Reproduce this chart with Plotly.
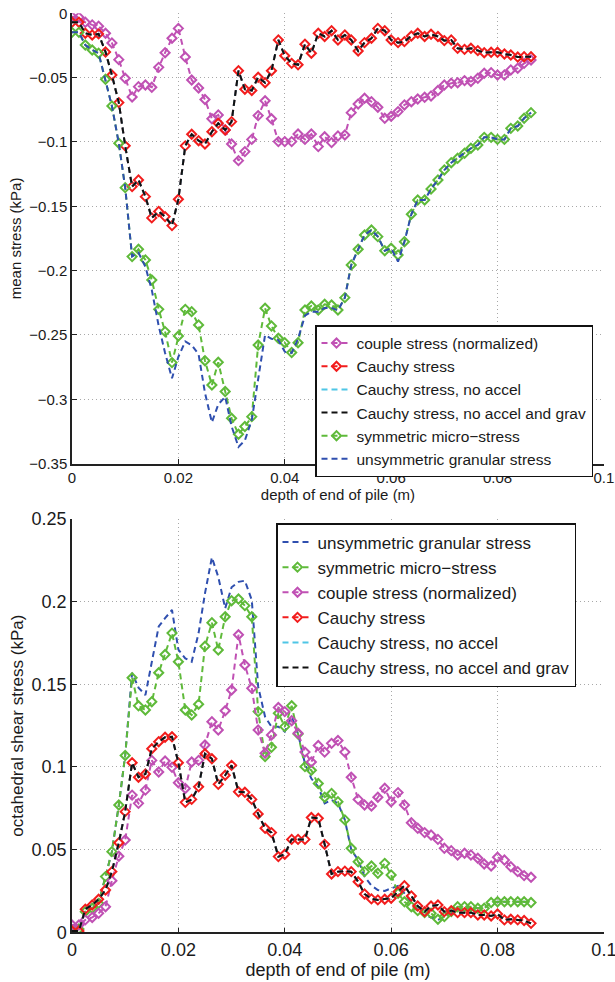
import plotly.graph_objects as go

# depth of end of pile (m) at each sample
depth = [0.0000, 0.0013, 0.0025, 0.0038, 0.0050, 0.0063, 0.0075, 0.0088, 0.0100, 0.0113,
         0.0125, 0.0138, 0.0150, 0.0163, 0.0175, 0.0188, 0.0200, 0.0213, 0.0225, 0.0238,
         0.0250, 0.0263, 0.0275, 0.0288, 0.0300, 0.0313, 0.0325, 0.0338, 0.0350, 0.0363,
         0.0375, 0.0388, 0.0400, 0.0413, 0.0425, 0.0438, 0.0450, 0.0463, 0.0475, 0.0488,
         0.0500, 0.0513, 0.0525, 0.0538, 0.0550, 0.0563, 0.0575, 0.0588, 0.0600, 0.0613,
         0.0625, 0.0638, 0.0650, 0.0663, 0.0675, 0.0688, 0.0700, 0.0713, 0.0725, 0.0738,
         0.0750, 0.0763, 0.0775, 0.0788, 0.0800, 0.0813, 0.0825, 0.0838, 0.0850, 0.0863]

# ---- mean stress (kPa) ----
mean_couple = [-0.0026, -0.003, -0.007, -0.009, -0.010, -0.0155, -0.023, -0.036, -0.0505, -0.065,
               -0.057, -0.0557, -0.0575, -0.042, -0.0306, -0.0194, -0.0117, -0.034, -0.0518, -0.058,
               -0.067, -0.082, -0.079, -0.0907, -0.1016, -0.1145, -0.1075, -0.098, -0.0795, -0.068,
               -0.082, -0.0997, -0.0997, -0.0997, -0.0938, -0.098, -0.0938, -0.1036, -0.096, -0.1005,
               -0.0953, -0.0946, -0.0772, -0.0705, -0.066, -0.0687, -0.073, -0.0816, -0.080, -0.0764,
               -0.0712, -0.0687, -0.0666, -0.0653, -0.0642, -0.060, -0.0557, -0.0544, -0.0539, -0.0523,
               -0.053, -0.0505, -0.0466, -0.0461, -0.048, -0.048, -0.044, -0.0427, -0.0389, -0.0363]

mean_cauchy = [-0.007, -0.007, -0.0155, -0.0168, -0.016, -0.030, -0.048, -0.0694, -0.103, -0.1347,
               -0.1295, -0.1425, -0.159, -0.154, -0.158, -0.165, -0.1445, -0.103, -0.094, -0.099,
               -0.1016, -0.092, -0.0855, -0.0907, -0.0842, -0.0446, -0.059, -0.060, -0.0497, -0.0539,
               -0.0446, -0.0207, -0.033, -0.0389, -0.040, -0.024, -0.031, -0.0155, -0.018, -0.0135,
               -0.0207, -0.0168, -0.0207, -0.0293, -0.0228, -0.0194, -0.0117, -0.0135, -0.0207, -0.0228,
               -0.022, -0.0176, -0.0155, -0.018, -0.0163, -0.018, -0.0212, -0.0207, -0.0272, -0.028,
               -0.0272, -0.029, -0.0306, -0.0303, -0.0303, -0.0316, -0.0324, -0.034, -0.0337, -0.0337]

mean_cauchy_noacc = mean_cauchy
mean_cauchy_noacc_nograv = mean_cauchy

mean_sym = [-0.0148, -0.0148, -0.0246, -0.0285, -0.031, -0.0513, -0.072, -0.101, -0.1355, -0.1891,
            -0.1834, -0.1917, -0.2073, -0.2301, -0.2474, -0.2715, -0.2508, -0.2301, -0.2319, -0.2422,
            -0.270, -0.2889, -0.2712, -0.2940, -0.3148, -0.3272, -0.3212, -0.3135, -0.2578, -0.2293,
            -0.243, -0.2526, -0.256, -0.2637, -0.256, -0.2306, -0.2275, -0.2306, -0.2262, -0.2267,
            -0.2306, -0.221, -0.1956, -0.1834, -0.1723, -0.1684, -0.1736, -0.1845, -0.1826, -0.1878,
            -0.1775, -0.1562, -0.1451, -0.1451, -0.1365, -0.1295, -0.1218, -0.1161, -0.1127, -0.1088,
            -0.1049, -0.1023, -0.0964, -0.0964, -0.098, -0.098, -0.0894, -0.0876, -0.0816, -0.0772]

mean_unsym = [-0.0148, -0.0148, -0.0246, -0.0285, -0.031, -0.0513, -0.072, -0.101, -0.1355, -0.189,
              -0.186, -0.197, -0.215, -0.243, -0.264, -0.2837, -0.267, -0.255, -0.258, -0.265,
              -0.295, -0.318, -0.304, -0.298, -0.321, -0.337, -0.332, -0.316, -0.285, -0.25,
              -0.253, -0.254, -0.263, -0.264, -0.253, -0.235, -0.232, -0.232, -0.229, -0.229,
              -0.231, -0.221, -0.1956, -0.1834, -0.1723, -0.1684, -0.1736, -0.1845, -0.1826, -0.193,
              -0.1775, -0.1562, -0.1451, -0.1451, -0.1365, -0.1295, -0.1218, -0.1161, -0.1127, -0.1088,
              -0.1049, -0.1023, -0.0964, -0.0964, -0.098, -0.098, -0.0894, -0.0876, -0.0816, -0.0772]

# ---- octahedral shear stress (kPa) ----
oct_cauchy = [0.0008, 0.0008, 0.014, 0.0165, 0.020, 0.0256, 0.0367, 0.0542, 0.073, 0.1026,
              0.0938, 0.0958, 0.111, 0.1153, 0.118, 0.1183, 0.1026, 0.0786, 0.0804, 0.088,
              0.108, 0.105, 0.0895, 0.095, 0.101, 0.085, 0.0847, 0.0804, 0.0716, 0.0629,
              0.0603, 0.0458, 0.0472, 0.0562, 0.0562, 0.0562, 0.0694, 0.069, 0.0532, 0.0353,
              0.0367, 0.037, 0.0367, 0.0306, 0.0232, 0.0202, 0.0196, 0.020, 0.0206, 0.0246,
              0.0282, 0.022, 0.0159, 0.0125, 0.0159, 0.0165, 0.0125, 0.0131, 0.0119, 0.0119,
              0.0119, 0.0105, 0.0105, 0.0099, 0.0111, 0.0075, 0.0079, 0.0075, 0.0071, 0.0054]

oct_cauchy_noacc = oct_cauchy
oct_cauchy_noacc_nograv = oct_cauchy

oct_couple = [0.0044, 0.0044, 0.0075, 0.009, 0.0115, 0.0155, 0.0312, 0.046, 0.0558, 0.083,
              0.078, 0.086, 0.104, 0.097, 0.1036, 0.0998, 0.0905, 0.087, 0.103, 0.104,
              0.1133, 0.1274, 0.1224, 0.134, 0.1466, 0.180, 0.1617, 0.1476, 0.1224, 0.1083,
              0.1194, 0.136, 0.1335, 0.128, 0.1204, 0.109, 0.103, 0.113, 0.109, 0.1143,
              0.116, 0.109, 0.0938, 0.0804, 0.077, 0.0764, 0.0817, 0.0871, 0.079, 0.0845,
              0.077, 0.0663, 0.0629, 0.0603, 0.0589, 0.0562, 0.0508, 0.0494, 0.0468, 0.0478,
              0.0468, 0.0448, 0.0413, 0.0401, 0.0454, 0.0437, 0.0397, 0.0367, 0.0343, 0.0333]

oct_sym = [0.001, 0.002, 0.0125, 0.0145, 0.0175, 0.0337, 0.0488, 0.077, 0.107, 0.154,
           0.137, 0.1345, 0.1395, 0.157, 0.168, 0.181, 0.1637, 0.1345, 0.1315, 0.138,
           0.173, 0.1873, 0.1708, 0.1909, 0.2006, 0.2016, 0.1976, 0.1909, 0.1335, 0.1063,
           0.1119, 0.1325, 0.1244, 0.137, 0.120, 0.1002, 0.098, 0.090, 0.0817, 0.084,
           0.079, 0.068, 0.0508, 0.0427, 0.0367, 0.0401, 0.0357, 0.0417, 0.0347, 0.0236,
           0.0185, 0.0155, 0.0131, 0.0119, 0.0115, 0.0079, 0.0095, 0.0125, 0.0155, 0.0155,
           0.0155, 0.0145, 0.0145, 0.018, 0.0185, 0.0185, 0.0185, 0.0185, 0.0185, 0.018]

oct_unsym = [0.001, 0.002, 0.0125, 0.0145, 0.0175, 0.0337, 0.0488, 0.077, 0.107, 0.157,
             0.148, 0.1435, 0.163, 0.185, 0.19, 0.195, 0.171, 0.1657, 0.1637, 0.181,
             0.205, 0.2268, 0.215, 0.196, 0.2087, 0.212, 0.2127, 0.201, 0.1486, 0.1304,
             0.1244, 0.1244, 0.1214, 0.1304, 0.120, 0.102, 0.093, 0.088, 0.078, 0.080,
             0.078, 0.068, 0.050, 0.0437, 0.0337, 0.0282, 0.0256, 0.025, 0.0266, 0.028,
             0.0236, 0.0185, 0.0135, 0.0099, 0.0091, 0.0075, 0.0095, 0.0115, 0.0135, 0.0145,
             0.015, 0.0145, 0.0145, 0.018, 0.0185, 0.0185, 0.0185, 0.0185, 0.0185, 0.018]

x_ticks = [0, 0.02, 0.04, 0.06, 0.08, 0.1]
x_tick_text = ["0", "0.02", "0.04", "0.06", "0.08", "0.1"]

# ---- styling ----
FONT = "Liberation Sans, Arial, Helvetica, sans-serif"
C_MAG = "#c051b4"
C_RED = "#f21d1d"
C_CYAN = "#4fc6e6"
C_BLK = "#111111"
C_GRN = "#5fba3a"
C_BLU = "#2f4faf"
DASH = "6px,4px"

W, H = 615, 982
def px_x(p):
    return p / W
def px_y(p):
    return 1 - p / H

fig = go.Figure()

def add(xa, ya, y, name, color, marker, legend):
    kw = dict(x=depth, y=y, name=name, xaxis=xa, yaxis=ya, legend=legend,
              line=dict(color=color, width=2, dash=DASH))
    if marker:
        kw["mode"] = "lines+markers"
        kw["marker"] = dict(symbol="diamond-open", size=7, color=color, line=dict(width=2, color=color))
    else:
        kw["mode"] = "lines"
    fig.add_trace(go.Scatter(**kw))

# top plot (legend order)
add("x", "y", mean_couple, "couple stress (normalized)", C_MAG, True, "legend")
add("x", "y", mean_cauchy, "Cauchy stress", C_RED, True, "legend")
add("x", "y", mean_cauchy_noacc, "Cauchy stress, no accel", C_CYAN, False, "legend")
add("x", "y", mean_cauchy_noacc_nograv, "Cauchy stress, no accel and grav", C_BLK, False, "legend")
add("x", "y", mean_sym, "symmetric micro\u2212stress", C_GRN, True, "legend")
add("x", "y", mean_unsym, "unsymmetric granular stress", C_BLU, False, "legend")

# bottom plot
add("x2", "y2", oct_unsym, "unsymmetric granular stress", C_BLU, False, "legend2")
add("x2", "y2", oct_sym, "symmetric micro\u2212stress", C_GRN, True, "legend2")
add("x2", "y2", oct_couple, "couple stress (normalized)", C_MAG, True, "legend2")
add("x2", "y2", oct_cauchy, "Cauchy stress", C_RED, True, "legend2")
add("x2", "y2", oct_cauchy_noacc, "Cauchy stress, no accel", C_CYAN, False, "legend2")
add("x2", "y2", oct_cauchy_noacc_nograv, "Cauchy stress, no accel and grav", C_BLK, False, "legend2")

axis_common = dict(showgrid=True, gridcolor="#a8a8a8", griddash="1px,3px", gridwidth=1,
                   zeroline=False, showline=True, linecolor="#222222", linewidth=1.5,
                   ticks="inside", ticklen=5, tickcolor="#222222", mirror=False,
                   automargin=False)

X_LEFT, X_RIGHT = 72, 604

fig.update_layout(
    width=W, height=H,
    margin=dict(l=0, r=0, t=0, b=0, pad=0, autoexpand=False),
    paper_bgcolor="white", plot_bgcolor="white",
    font=dict(family=FONT, color="#1a1a1a"),
    xaxis=dict(domain=[px_x(X_LEFT), px_x(X_RIGHT)], anchor="y", range=[0, 0.10002], tickvals=x_ticks,
               ticktext=x_tick_text, tickfont=dict(size=15),
               title=dict(text="depth of end of pile (m)", font=dict(size=15), standoff=2),
               **axis_common),
    yaxis=dict(domain=[px_y(463.6), px_y(13.3)], anchor="x", range=[-0.35, 0.00002], dtick=0.05,
               tickfont=dict(size=15),
               title=dict(text="mean stress (kPa)", font=dict(size=15), standoff=4),
               **axis_common),
    xaxis2=dict(domain=[px_x(X_LEFT), px_x(X_RIGHT)], anchor="y2", range=[0, 0.10002], tickvals=x_ticks,
                ticktext=x_tick_text, tickfont=dict(size=18), ticklabeloverflow="allow",
                title=dict(text="depth of end of pile (m)", font=dict(size=18), standoff=2),
                **axis_common),
    yaxis2=dict(domain=[px_y(932.3), px_y(519)], anchor="x2", range=[0, 0.25002], dtick=0.05,
                tickfont=dict(size=18),
                title=dict(text="octahedral shear stress (kPa)", font=dict(size=17), standoff=4),
                **axis_common),
    legend=dict(x=px_x(315), y=px_y(325), xanchor="left", yanchor="top",
                bgcolor="white", bordercolor="#111111", borderwidth=1.5,
                font=dict(size=15.5), itemwidth=30, tracegroupgap=0),
    legend2=dict(x=px_x(276), y=px_y(523), xanchor="left", yanchor="top",
                 bgcolor="white", bordercolor="#111111", borderwidth=1.5,
                 font=dict(size=17), itemwidth=30, tracegroupgap=0),
)

post = ("document.documentElement.style.overflow='hidden';"
        "document.body.style.margin='0';document.body.style.overflow='hidden';")

fig.write_html("out.html", config={"displayModeBar": False}, post_script=post)
